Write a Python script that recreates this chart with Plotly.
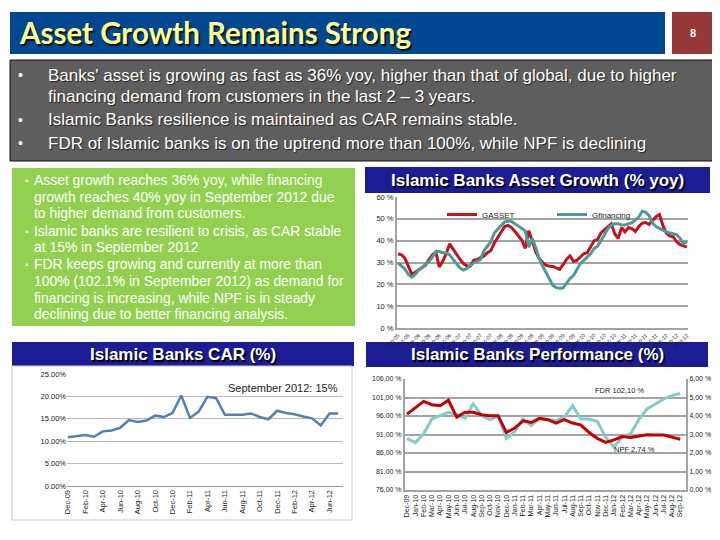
import plotly.graph_objects as go
import pandas as pd

# ---------------- DATA ----------------
# Asset growth chart: monthly Sep-05 .. Sep-12
asset_months = [d.strftime("%b-%y") for d in pd.date_range("2005-09-01", "2012-09-01", freq="MS")]
gasset = [34, 33.5, 32, 28, 24.7, 25.5, 26.5, 27.5, 28.8, 31.5,
          33.5, 34.8, 28, 30.5, 34, 38.5, 36, 34, 31.5, 29.5,
          28.5, 28.3, 31, 31.4, 32.3, 33, 34.5, 35.5, 39, 41.5,
          43.5, 46.5, 47, 46, 44.2, 42, 40.2, 36.5, 44.5, 40,
          35, 32, 30, 28.8, 28.3, 28.2, 27.5, 26.8, 29, 31.5,
          33, 30.5, 31, 32.5, 34, 34.5, 37.5, 40, 40.5, 43.5,
          45, 46.5, 47.7, 43.2, 41, 46, 44, 46, 45.5, 44.2,
          46.5, 48, 48.3, 47.5, 49.5, 51, 52, 47, 43.5, 42.2,
          41.8, 39.5, 38.2, 37.5, 37]
gfinancing = [29.8, 28.5, 27, 24.5, 23.3, 24.5, 26.5, 27.8, 29, 30.5,
              32.5, 35, 35, 34.5, 34.5, 33.5, 31.5, 29.5, 27.5, 26.5,
              27.3, 28.5, 29.8, 30.5, 31.5, 35.5, 37.5, 39.5, 43.5, 45.5,
              47, 48.5, 49, 48.8, 47.8, 46.5, 45.5, 44.5, 37, 41,
              37, 32, 28.5, 25.5, 22, 19.5, 18.5, 18.2, 18.4, 20.5,
              22.7, 24, 26.5, 29.5, 31, 32.3, 34, 36.4, 37.5, 40,
              42.5, 45.5, 47, 47.7, 47.7, 47.2, 47.2, 47.7, 48.2, 49.5,
              50.8, 53.5, 53, 51.5, 48, 46.5, 45.5, 44.8, 44, 43.5,
              43.2, 42.8, 41, 38.6, 39.5]
asset_ticks = [0, 10, 20, 30, 40, 50, 60]
asset_tick_labels = ["0 %", "10 %", "20 %", "30 %", "40 %", "50 %", "60 %"]

# CAR chart: monthly Dec-09 .. Jul-12
car_months = ["Dec-09", "Jan-10", "Feb-10", "Mar-10", "Apr-10", "May-10", "Jun-10", "Jul-10",
              "Aug-10", "Sep-10", "Oct-10", "Nov-10", "Dec-10", "Jan-11", "Feb-11", "Mar-11",
              "Apr-11", "May-11", "Jun-11", "Jul-11", "Aug-11", "Sep-11", "Oct-11", "Nov-11",
              "Dec-11", "Jan-12", "Feb-12", "Mar-12", "Apr-12", "May-12", "Jun-12", "Jul-12"]
car = [10.9, 11.2, 11.4, 11.0, 12.2, 12.4, 13.0, 14.7, 14.3, 14.6, 15.7, 15.4,
       16.3, 20.2, 15.2, 16.6, 19.9, 19.6, 15.9, 15.9, 15.9, 16.2, 15.4, 14.9,
       16.8, 16.3, 16.0, 15.5, 15.1, 13.5, 16.2, 16.2]
car_ticks = [0, 5, 10, 15, 20, 25]
car_tick_labels = ["0.00%", "5.00%", "10.00%", "15.00%", "20.00%", "25.00%"]

# Performance chart: monthly Dec-09 .. Sep-12
perf_months = car_months + ["Aug-12", "Sep-12"]
fdr = [89.9, 88.8, 91.2, 95.2, 96.1, 97.0, 96.3, 95.4, 99.3, 96.1, 95.0, 95.9,
       89.9, 91.8, 95.2, 93.4, 95.4, 95.2, 94.8, 95.7, 98.8, 95.2, 95.2, 94.5,
       90.3, 87.6, 90.3, 91.2, 95.0, 97.9, 99.3, 100.6, 101.5, 102.1]
npf = [4.10, 4.43, 4.79, 4.61, 4.56, 4.85, 3.94, 4.20, 4.20, 4.07, 4.01, 4.01,
       3.11, 3.35, 3.74, 3.65, 3.87, 3.80, 3.62, 3.80, 3.62, 3.51, 3.11, 2.78,
       2.57, 2.71, 2.89, 2.84, 2.93, 2.98, 2.97, 2.97, 2.86, 2.74]
perf_left_ticks = [76, 81, 86, 91, 96, 101, 106]
perf_left_labels = ["76,00 %", "81,00 %", "86,00 %", "91,00 %", "96,00 %", "101,00 %", "106,00 %"]
perf_right_ticks = [0, 1, 2, 3, 4, 5, 6]
perf_right_labels = ["0,00 %", "1,00 %", "2,00 %", "3,00 %", "4,00 %", "5,00 %", "6,00 %"]

# ---------------- HELPERS ----------------
W, H = 720, 540
OFF = 8  # page body margin of the written HTML
def px(x):
    return (x - OFF) / W
def py(y):
    return 1 - (y - OFF) / H

fig = go.Figure()

# Asset growth traces
fig.add_trace(go.Scatter(x=asset_months, y=gasset, name="GASSET", mode="lines",
                         line=dict(color="#C0141E", width=3), xaxis="x", yaxis="y"))
fig.add_trace(go.Scatter(x=asset_months, y=gfinancing, name="Gfinancing", mode="lines",
                         line=dict(color="#4C9A9A", width=3), xaxis="x", yaxis="y"))
# CAR
fig.add_trace(go.Scatter(x=car_months, y=car, mode="lines", showlegend=False,
                         line=dict(color="#5580AD", width=2.5), xaxis="x2", yaxis="y2"))
# Performance
fig.add_trace(go.Scatter(x=perf_months, y=fdr, mode="lines", showlegend=False,
                         line=dict(color="#86CACA", width=3), xaxis="x3", yaxis="y3"))
fig.add_trace(go.Scatter(x=perf_months, y=npf, mode="lines", showlegend=False,
                         line=dict(color="#C00000", width=3), xaxis="x3", yaxis="y4"))

shapes = []
annotations = []

def rect(x0, y0, x1, y1, fill, line=None, lw=0):
    shapes.append(dict(type="rect", xref="paper", yref="paper", layer="below",
                       x0=px(x0), x1=px(x1), y0=py(y1), y1=py(y0),
                       fillcolor=fill, line=dict(color=line or fill, width=lw)))

def text(x, y, s, size, color, family="Liberation Sans", xanchor="left", bold=False, shadow=None):
    if bold:
        s = "<b>" + s + "</b>"
    font = dict(size=size, color=color, family=family)
    if shadow:
        font["shadow"] = shadow
    annotations.append(dict(x=px(x), y=py(y), xref="paper", yref="paper", text=s,
                            showarrow=False, xanchor=xanchor, yanchor="middle",
                            font=font))

# Title bar
rect(10, 12, 665, 54, "#00478F")
text(17, 33, "Asset Growth Remains Strong", 29.5, "#FFFF99", family="Lato", bold=True,
     shadow="1.5px 1.5px 1px #111111")
rect(672, 12, 714, 54, "#953735")
text(693, 33, "8", 11, "white", xanchor="center", bold=True)

# Grey box
rect(10, 60, 715, 161, "#5E5E5E", line="#111111", lw=1)
grey_lines = [
    (75, True, "Banks' asset is growing as fast as 36% yoy, higher than that of global, due to higher"),
    (96, False, "financing demand from customers in the last 2 \u2013 3 years."),
    (120, True, "Islamic Banks resilience is maintained as CAR remains stable."),
    (143, True, "FDR of Islamic banks is on the uptrend more than 100%, while NPF is declining"),
]
for y, bullet, s in grey_lines:
    if bullet:
        text(16, y, "\u2022", 14, "white")
    text(46, y, s, 17, "white", shadow="1px 1px 1px #222222")

# Green box
rect(12, 168, 355, 326, "#92D050")
green_lines = [
    (180, True, "Asset growth reaches 36% yoy, while financing"),
    (197, False, "growth reaches 40% yoy in September 2012 due"),
    (213, False, "to higher demand from customers."),
    (231, True, "Islamic banks are resilient to crisis, as CAR stable"),
    (247, False, "at 15% in September 2012"),
    (264, True, "FDR keeps growing and currently at more than"),
    (281, False, "100% (102.1% in September 2012) as demand for"),
    (298, False, "financing is increasing, while NPF is in steady"),
    (314, False, "declining due to better financing analysis."),
]
for y, bullet, s in green_lines:
    if bullet:
        text(23, y, "\u25aa", 10, "white")
    text(32, y, s, 13.9, "white")

# Header bars
navy = "#1C1C94"
hshadow = "1.5px 1.5px 1px #000000"
rect(365, 167, 710, 193, navy)
text(537, 180, "Islamic Banks Asset Growth (% yoy)", 17, "white", xanchor="center", bold=True, shadow=hshadow)
rect(12, 342, 354, 366, navy)
text(183, 354, "Islamic Banks CAR (%)", 17, "white", xanchor="center", bold=True, shadow=hshadow)
rect(366, 342, 708, 367, navy)
text(537, 354, "Islamic Banks Performance (%)", 17, "white", xanchor="center", bold=True, shadow=hshadow)

# CAR frame
shapes.append(dict(type="rect", xref="paper", yref="paper", layer="below",
                   x0=px(12), x1=px(352), y0=py(520), y1=py(366),
                   fillcolor="white", line=dict(color="#C8C8C8", width=1)))

# Chart annotations
text(340, 388, "September 2012: 15%", 11, "#222222", xanchor="right")
text(620, 390, "FDR 102,10 %", 7.5, "#222222", xanchor="center")
text(634, 449, "NPF 2,74 %", 7.5, "#222222", xanchor="center")

grid = "#A3A3A3"
tickfont_small = dict(size=7, color="#222222", family="Liberation Sans")

fig.update_layout(
    width=W, height=H,
    margin=dict(l=0, r=0, t=0, b=0, autoexpand=False),
    paper_bgcolor="white",
    plot_bgcolor="rgba(0,0,0,0)",
    shapes=shapes,
    annotations=annotations,
    showlegend=True,
    legend=dict(orientation="h", x=px(442), y=py(200), xanchor="left", yanchor="top",
                bgcolor="rgba(0,0,0,0)", font=dict(size=8, color="#222222", family="Liberation Sans"),
                entrywidth=65, entrywidthmode="pixels", itemwidth=30, tracegroupgap=0),
    xaxis=dict(domain=[px(397), px(688)], anchor="y", type="category", automargin=False,
               range=[-0.3, len(asset_months) - 0.7],
               tickvals=asset_months[::3], ticktext=asset_months[::3], tickangle=-45,
               tickfont=dict(size=5.5, color="#222222", family="Liberation Sans"),
               showgrid=False, showline=True, linecolor=grid, linewidth=2, ticks=""),
    yaxis=dict(domain=[py(328), py(197)], anchor="x", range=[0, 60], automargin=False,
               tickvals=asset_ticks, ticktext=asset_tick_labels,
               tickfont=dict(size=7.5, color="#222222", family="Liberation Sans"),
               showgrid=True, gridcolor=grid, gridwidth=2, zeroline=False,
               showline=True, linecolor=grid, linewidth=2, ticks=""),
    xaxis2=dict(domain=[px(67), px(343)], anchor="y2", type="category", automargin=False,
                range=[-0.1, len(car_months) - 0.45],
                tickvals=car_months[::2], ticktext=car_months[::2], tickangle=-90,
                tickfont=dict(size=7.5, color="#222222", family="Liberation Sans"),
                showgrid=False, showline=True, linecolor="#999999", linewidth=1, ticks=""),
    yaxis2=dict(domain=[py(486), py(374)], anchor="x2", range=[0, 25], automargin=False,
                tickvals=car_ticks, ticktext=car_tick_labels,
                tickfont=dict(size=7.5, color="#222222", family="Liberation Sans"),
                showgrid=True, gridcolor="#B8B8B8", gridwidth=1, zeroline=False,
                showline=False, ticks=""),
    xaxis3=dict(domain=[px(405), px(686)], anchor="y3", type="category", automargin=False,
                range=[-0.25, len(perf_months) - 0.3], tickangle=-90,
                tickfont=dict(size=7, color="#222222", family="Liberation Sans"),
                showgrid=False, showline=True, linecolor=grid, linewidth=2, ticks=""),
    yaxis3=dict(domain=[py(490), py(379)], anchor="x3", range=[76, 106], automargin=False,
                tickvals=perf_left_ticks, ticktext=perf_left_labels,
                tickfont=tickfont_small,
                showgrid=True, gridcolor=grid, gridwidth=2, zeroline=False,
                showline=True, linecolor=grid, linewidth=2, ticks=""),
    yaxis4=dict(domain=[py(490), py(379)], anchor="x3", overlaying="y3", side="right",
                range=[0, 6], automargin=False,
                tickvals=perf_right_ticks, ticktext=perf_right_labels,
                tickfont=tickfont_small, showgrid=False, zeroline=False,
                showline=True, linecolor=grid, linewidth=2, ticks=""),
)

fig.write_html("out.html")
